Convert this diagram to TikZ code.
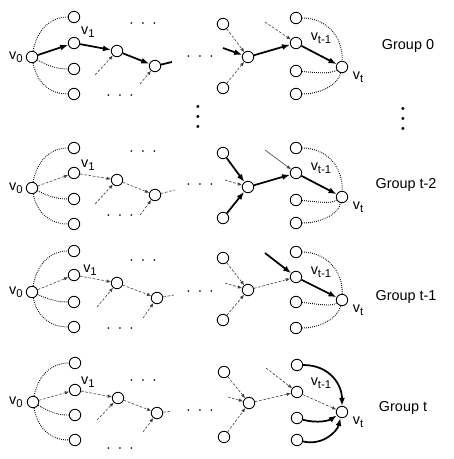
\documentclass[tikz,border=0pt]{standalone}
\usepackage{fontspec}
\setmainfont{Liberation Sans}
\usetikzlibrary{arrows.meta}
\newcommand{\vlab}[1]{v\raisebox{-0.4ex}{\fontsize{8.5}{8.5}\selectfont #1}}
\newcommand{\hdots}{·\hspace{0.45em}·\hspace{0.45em}·}
\begin{document}
\begin{tikzpicture}[x=0.75pt,y=0.75pt,yscale=-1,xscale=1,
  vx/.style={draw,circle,minimum size=8.6pt,inner sep=0pt,line width=0.65pt},
  heavy/.style={line width=1.3pt,-{Latex[length=6pt,width=4.5pt]}},
  heavyline/.style={line width=1.3pt},
  light/.style={black!75,line width=0.45pt,dash pattern=on 2pt off 1.2pt,-{Latex[length=3.2pt,width=2.6pt]}},
  lightline/.style={black!75,line width=0.45pt,dash pattern=on 2pt off 1.2pt},
  thinarrow/.style={black!75,line width=0.45pt,-{Latex[length=3.2pt,width=2.6pt]}},
  dotlink/.style={line width=0.7pt,dash pattern=on 0.6pt off 0.9pt},
  lbl/.style={font=\fontsize{10.8}{12}\selectfont,inner sep=0pt},
  grp/.style={font=\fontsize{10.8}{13}\selectfont,inner sep=0pt},
  dd/.style={font=\fontsize{11}{13}\selectfont,inner sep=0pt},
  vdd/.style={font=\fontsize{8}{7.5}\selectfont,inner sep=0pt,align=center}
]
\useasboundingbox (0,0) rectangle (453,459);

%Group 0
\node [vx] (Av0) at (32,57) {};
\node [vx] (Ac1) at (74,17) {};
\node [vx] (Ac2) at (74,43) {};
\node [vx] (Ac3) at (74,69) {};
\node [vx] (Ac4) at (74,94) {};
\node [vx] (Aa) at (117,51) {};
\node [vx] (Ab) at (155,66) {};
\coordinate (Aab) at (95,75);
\coordinate (Abb) at (140,84);
\coordinate (As) at (172,62);
\node [vx] (Ap) at (223,24) {};
\node [vx] (Aq) at (248,57) {};
\node [vx] (Ar) at (223,88) {};
\coordinate (Aqi) at (223,48);
\node [vx] (Ad1) at (296,18) {};
\node [vx] (Ad2) at (296,43) {};
\node [vx] (Ad3) at (296,71) {};
\node [vx] (Ad4) at (296,94) {};
\coordinate (Adi) at (265,22);
\node [vx] (Avt) at (342,67) {};

\draw [dotlink] (Av0) .. controls (37,30) and (50,17) .. (Ac1);
\draw [heavy] (Av0) -- (Ac2);
\draw [dotlink] (Av0) .. controls (50,67) and (58,69) .. (Ac3);
\draw [dotlink] (Av0) .. controls (37,83) and (50,94) .. (Ac4);
\draw [heavy] (Ac2) -- (Aa);
\draw [heavy] (Aa) -- (Ab);
\draw [heavyline] (Ab) -- (As);
\draw [light] (Aab) -- (Aa);
\draw [light] (Abb) -- (Ab);
\draw [heavy] (Aqi) -- (Aq);
\draw [light] (Ap) -- (Aq);
\draw [light] (Ar) -- (Aq);
\draw [heavy] (Aq) -- (Ad2);
\draw [light] (Adi) -- (Ad2);
\draw [heavy] (Ad2) -- (Avt);
\draw [dotlink] (Ad1) .. controls (325,18) and (343,35) .. (Avt);
\draw [dotlink] (Ad3) .. controls (320,73) and (330,74) .. (Avt);
\draw [dotlink] (Ad4) .. controls (320,94) and (338,85) .. (Avt);

% Text Node
\node [lbl] (Alv0) at (16,57) {\vlab{0}};
\node [lbl] (Alv1) at (88,32) {\vlab{1}};
\node [lbl] (Altm) at (321,38) {\vlab{t-1}};
\node [lbl] (Alt) at (358,77) {\vlab{t}};
\node [grp] (Agrp) at (408,46) {Group 0};
\node [dd] (Adots1) at (143,25) {\hdots};
\node [dd] (Adots2) at (120,97) {\hdots};
\node [dd] (Adots3) at (200,58) {\hdots};

% Vertical dots
\node [vdd] (vdots1) at (198,118) {•\\•\\•};
\node [vdd] (vdots2) at (403,120) {•\\•\\•};

%Group t-2
\node [vx] (Bv0) at (32,188) {};
\node [vx] (Bc1) at (74,148) {};
\node [vx] (Bc2) at (74,173) {};
\node [vx] (Bc3) at (74,199) {};
\node [vx] (Bc4) at (74,224) {};
\node [vx] (Ba) at (117,180) {};
\node [vx] (Bb) at (155,195) {};
\coordinate (Bab) at (95,204);
\coordinate (Bbb) at (140,215);
\coordinate (Bs) at (175,190);
\node [vx] (Bp) at (223,153) {};
\node [vx] (Bq) at (248,187) {};
\node [vx] (Br) at (223,218) {};
\coordinate (Bqi) at (225,180);
\node [vx] (Bd1) at (296,148) {};
\node [vx] (Bd2) at (296,173) {};
\node [vx] (Bd3) at (296,200) {};
\node [vx] (Bd4) at (296,223) {};
\coordinate (Bdi) at (265,150);
\node [vx] (Bvt) at (342,197) {};

\draw [dotlink] (Bv0) .. controls (37,161) and (50,148) .. (Bc1);
\draw [light] (Bv0) -- (Bc2);
\draw [dotlink] (Bv0) .. controls (50,197) and (58,199) .. (Bc3);
\draw [dotlink] (Bv0) .. controls (37,213) and (50,224) .. (Bc4);
\draw [light] (Bc2) -- (Ba);
\draw [light] (Ba) -- (Bb);
\draw [lightline] (Bb) -- (Bs);
\draw [light] (Bab) -- (Ba);
\draw [light] (Bbb) -- (Bb);
\draw [heavy] (Bp) -- (Bq);
\draw [heavy] (Br) -- (Bq);
\draw [light] (Bqi) -- (Bq);
\draw [heavy] (Bq) -- (Bd2);
\draw [thinarrow] (Bdi) -- (Bd2);
\draw [heavy] (Bd2) -- (Bvt);
\draw [dotlink] (Bd1) .. controls (325,148) and (343,165) .. (Bvt);
\draw [dotlink] (Bd3) .. controls (320,202) and (330,204) .. (Bvt);
\draw [dotlink] (Bd4) .. controls (320,223) and (338,215) .. (Bvt);

% Text Node
\node [lbl] (Blv0) at (16,188) {\vlab{0}};
\node [lbl] (Blv1) at (88,165) {\vlab{1}};
\node [lbl] (Bltm) at (321,168) {\vlab{t-1}};
\node [lbl] (Blt) at (358,207) {\vlab{t}};
\node [grp] (Bgrp) at (406,185) {Group t-2};
\node [dd] (Bdots1) at (143,153) {\hdots};
\node [dd] (Bdots2) at (120,217) {\hdots};
\node [dd] (Bdots3) at (200,186) {\hdots};

%Group t-1
\node [vx] (Cv0) at (32,292) {};
\node [vx] (Cc1) at (74,251) {};
\node [vx] (Cc2) at (74,275) {};
\node [vx] (Cc3) at (74,302) {};
\node [vx] (Cc4) at (74,327) {};
\node [vx] (Ca) at (117,283) {};
\node [vx] (Cb) at (157,298) {};
\coordinate (Cab) at (97,307);
\coordinate (Cbb) at (143,318);
\coordinate (Cs) at (174,295);
\node [vx] (Cp) at (223,258) {};
\node [vx] (Cq) at (248,290) {};
\node [vx] (Cr) at (223,320) {};
\coordinate (Cqi) at (225,283);
\node [vx] (Cd1) at (296,252) {};
\node [vx] (Cd2) at (296,277) {};
\node [vx] (Cd3) at (296,302) {};
\node [vx] (Cd4) at (296,328) {};
\coordinate (Cdi) at (265,253);
\node [vx] (Cvt) at (342,300) {};

\draw [dotlink] (Cv0) .. controls (37,264) and (50,251) .. (Cc1);
\draw [light] (Cv0) -- (Cc2);
\draw [dotlink] (Cv0) .. controls (50,300) and (58,302) .. (Cc3);
\draw [dotlink] (Cv0) .. controls (37,316) and (50,327) .. (Cc4);
\draw [light] (Cc2) -- (Ca);
\draw [light] (Ca) -- (Cb);
\draw [lightline] (Cb) -- (Cs);
\draw [light] (Cab) -- (Ca);
\draw [light] (Cbb) -- (Cb);
\draw [light] (Cp) -- (Cq);
\draw [light] (Cr) -- (Cq);
\draw [light] (Cqi) -- (Cq);
\draw [light] (Cq) -- (Cd2);
\draw [heavy] (Cdi) -- (Cd2);
\draw [heavy] (Cd2) -- (Cvt);
\draw [dotlink] (Cd1) .. controls (325,252) and (343,270) .. (Cvt);
\draw [dotlink] (Cd3) .. controls (320,304) and (330,307) .. (Cvt);
\draw [dotlink] (Cd4) .. controls (320,328) and (338,318) .. (Cvt);

% Text Node
\node [lbl] (Clv0) at (16,292) {\vlab{0}};
\node [lbl] (Clv1) at (90,270) {\vlab{1}};
\node [lbl] (Cltm) at (321,272) {\vlab{t-1}};
\node [lbl] (Clt) at (358,310) {\vlab{t}};
\node [grp] (Cgrp) at (406,297) {Group t-1};
\node [dd] (Cdots1) at (143,262) {\hdots};
\node [dd] (Cdots2) at (120,330) {\hdots};
\node [dd] (Cdots3) at (200,293) {\hdots};

%Group t
\node [vx] (Dv0) at (33,402) {};
\node [vx] (Dc1) at (75,363) {};
\node [vx] (Dc2) at (75,390) {};
\node [vx] (Dc3) at (75,415) {};
\node [vx] (Dc4) at (75,440) {};
\node [vx] (Da) at (118,398) {};
\node [vx] (Db) at (157,413) {};
\coordinate (Dab) at (97,420);
\coordinate (Dbb) at (143,432);
\coordinate (Ds) at (172,411);
\node [vx] (Dp) at (224,372) {};
\node [vx] (Dq) at (249,403) {};
\node [vx] (Dr) at (224,437) {};
\coordinate (Dqi) at (228,397);
\node [vx] (Dd1) at (297,365) {};
\node [vx] (Dd2) at (297,392) {};
\node [vx] (Dd3) at (297,418) {};
\node [vx] (Dd4) at (297,440) {};
\coordinate (Ddi) at (266,368);
\node [vx] (Dvt) at (342,412) {};

\draw [dotlink] (Dv0) .. controls (38,376) and (51,363) .. (Dc1);
\draw [light] (Dv0) -- (Dc2);
\draw [dotlink] (Dv0) .. controls (51,413) and (59,415) .. (Dc3);
\draw [dotlink] (Dv0) .. controls (38,429) and (51,440) .. (Dc4);
\draw [light] (Dc2) -- (Da);
\draw [light] (Da) -- (Db);
\draw [lightline] (Db) -- (Ds);
\draw [light] (Dab) -- (Da);
\draw [light] (Dbb) -- (Db);
\draw [light] (Dp) -- (Dq);
\draw [light] (Dr) -- (Dq);
\draw [light] (Dqi) -- (Dq);
\draw [light] (Dq) -- (Dd2);
\draw [light] (Ddi) -- (Dd2);
\draw [light] (Dd2) -- (Dvt);
\draw [heavy] (Dd1) .. controls (330,365) and (342,385) .. (Dvt);
\draw [heavy] (Dd3) .. controls (318,424) and (330,420) .. (Dvt);
\draw [heavy] (Dd4) .. controls (322,446) and (337,432) .. (Dvt);

% Text Node
\node [lbl] (Dlv0) at (16,402) {\vlab{0}};
\node [lbl] (Dlv1) at (88,382) {\vlab{1}};
\node [lbl] (Dltm) at (321,383) {\vlab{t-1}};
\node [lbl] (Dlt) at (358,422) {\vlab{t}};
\node [grp] (Dgrp) at (403,408) {Group t};
\node [dd] (Ddots1) at (143,382) {\hdots};
\node [dd] (Ddots2) at (120,450) {\hdots};
\node [dd] (Ddots3) at (200,412) {\hdots};
\end{tikzpicture}
\end{document}
